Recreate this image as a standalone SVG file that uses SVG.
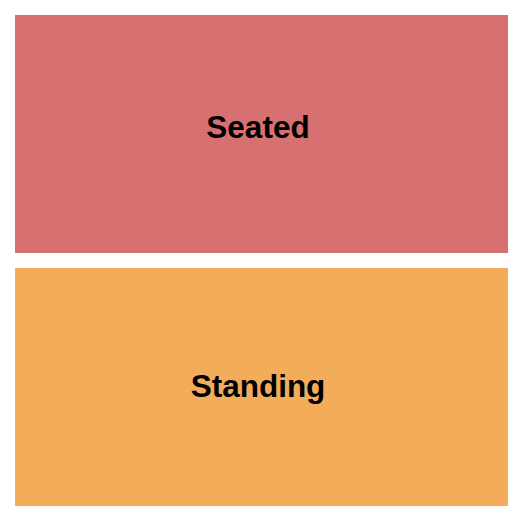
<svg xmlns="http://www.w3.org/2000/svg" width="525" height="525" viewBox="0 0 525 525">
<style>
.lbl{font-family:"Liberation Sans",Arial,sans-serif;font-weight:bold;font-size:31.5px;fill:#000;text-anchor:middle}
</style>
<rect width="525" height="525" fill="#fff"/>
<g id="seated">
<rect x="15" y="15" width="493" height="238" fill="#D77070"/>
<text class="lbl" x="258" y="138">Seated</text>
</g>
<g id="standing">
<rect x="15" y="268" width="493" height="238" fill="#F3AC5A"/>
<text class="lbl" x="258" y="397">Standing</text>
</g>
<g id="connectors"/>
</svg>
